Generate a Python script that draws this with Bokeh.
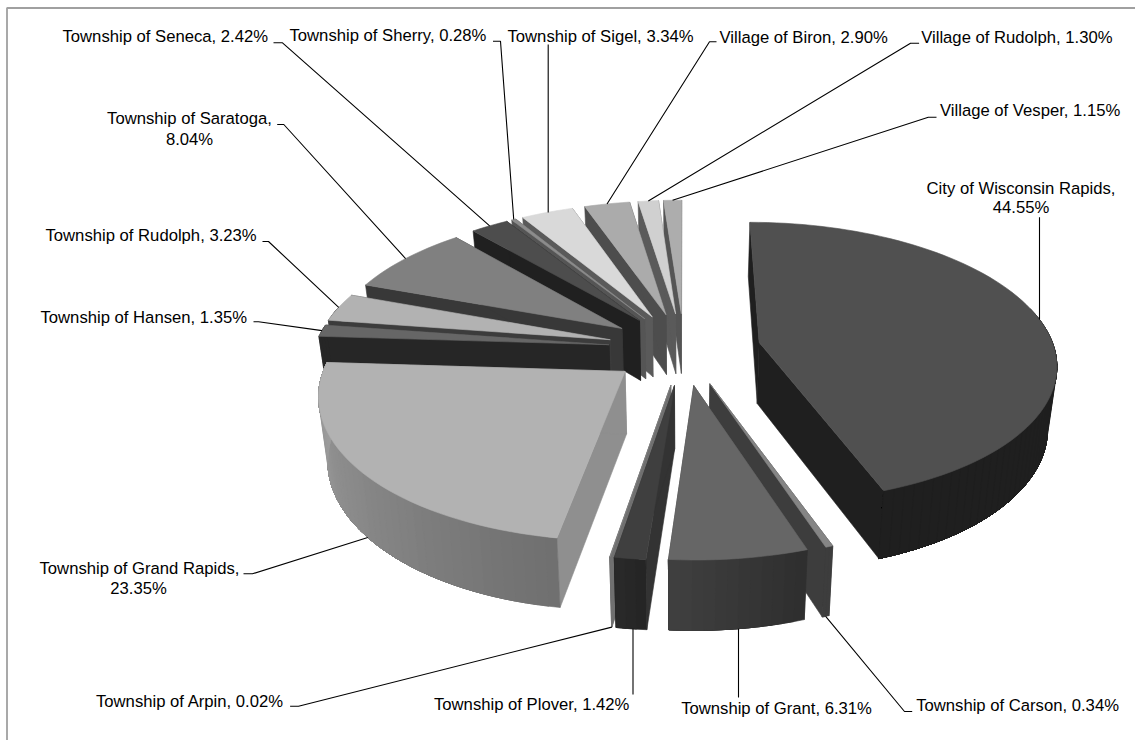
import math
from bokeh.core.properties import value
from bokeh.embed import file_html
from bokeh.models import Range1d
from bokeh.plotting import figure
from bokeh.resources import INLINE

# ---- data ----
names = ["City of Wisconsin Rapids", "Township of Carson", "Township of Grant", "Township of Plover",
         "Township of Arpin", "Township of Grand Rapids", "Township of Hansen", "Township of Rudolph",
         "Township of Saratoga", "Township of Seneca", "Township of Sherry", "Township of Sigel",
         "Village of Biron", "Village of Rudolph", "Village of Vesper"]
shares = [44.55, 0.34, 6.31, 1.42, 0.02, 23.35, 1.35, 3.23, 8.04, 2.42, 0.28, 3.34, 2.90, 1.30, 1.15]

# ---- style: gray levels ----
top_gray = [0x50, 0x85, 0x66, 0x3f, 0x80, 0xb2, 0x66, 0xb2, 0x80, 0x4d, 0x8c, 0xd9, 0xab, 0xd0, 0xad]
side_gray = [0x1f, 0x3d, 0x3a, 0x33, 0x70, 0x8f, 0x26, 0x3c, 0x38, 0x20, 0x55, 0x5a, 0x4d, 0x5a, 0x55]
wall_start = [0x1f, 0x3d, 0x2e, 0x24, 0x70, 0x6f, 0x26, 0x3c, 0x38, 0x20, 0x55, 0x5a, 0x4d, 0x5a, 0x55]
wall_end = [0x1f, 0x3d, 0x40, 0x2a, 0x70, 0xa0, 0x26, 0x3c, 0x38, 0x20, 0x55, 0x5a, 0x4d, 0x5a, 0x55]

# ---- layout: label rows (left or centre x, y), elbow points, anchor on bottom rim, sideways nudge ----
label_rows = [
    [(1020.5, 187.7, "center"), (1020.5, 206.7, "center")],
    [(915.7, 705.3, "left")],
    [(680.7, 708, "left")],
    [(433.5, 704, "left")],
    [(95.5, 700.7, "left")],
    [(139, 568.3, "center"), (138, 587.7, "center")],
    [(40, 316.7, "left")],
    [(45, 235.3, "left")],
    [(189, 118.3, "center"), (189, 138.7, "center")],
    [(62, 36, "left")],
    [(289, 35, "left")],
    [(507, 36, "left")],
    [(719, 36.7, "left")],
    [(920.7, 37.3, "left")],
    [(939.5, 110, "left")],
]
elbows = [
    [(1039, 216.7)],
    [(911.7, 711), (904, 711)],
    [(738, 697)],
    [(632.5, 694)],
    [(289.6, 705.7), (298, 705.7)],
    [(243, 573.3), (252, 573.3)],
    [(253, 321.3), (258, 321.3)],
    [(262, 241), (268, 241)],
    [(276.7, 124), (283.3, 124)],
    [(273, 42.3), (282, 42.3)],
    [(492.5, 40.7), (500, 40.7)],
    [(547.7, 44)],
    [(716, 41.3), (709, 41.3)],
    [(918.6, 42.7), (910, 42.7)],
    [(936, 116.7), (927.8, 116.7)],
]
anchor_bottom = [False, True, True, True, True, True, False, False, False, False, False, False, False, False, False]
nudge_x = [0, 0, 0, 0, 0, 2.5, 1, 0, 0, 0, 0, 0, 0, 0, 0]

# ---- projection ----
CX, CY, A, B, K, E = 683.5, 348.0, 295.0, 138.5, 0.14, 0.26


def project(u, v, dx=0.0):
    s = 1.0 / (1.0 - K * v)
    return CX + A * u * s + dx, CY + B * v * s


def lower(u, v, dx=0.0):
    x, y = project(u, v)
    return CX + (x - CX) * 0.975 + dx, y + 61.5 + 7.0 * v


def hexgray(g):
    g = int(round(g))
    return f"#{g:02x}{g:02x}{g:02x}"


total = sum(shares)
slices = []
cum = 0.0
for i, share in enumerate(shares):
    t0 = cum / total * 2 * math.pi
    cum += share
    t1 = cum / total * 2 * math.pi
    b = (t0 + t1) / 2
    ou, ov = E * math.sin(b), -E * math.cos(b)
    slices.append((ov, i, t0, t1, b, ou))

xs, ys, cols = [], [], []


def add(pts, col):
    xs.append([q[0] for q in pts])
    ys.append([q[1] for q in pts])
    cols.append(col)


for ov, i, t0, t1, b, ou in sorted(slices):
    d = nudge_x[i]
    n = max(2, int((t1 - t0) / math.radians(2.0)) + 1)
    angles = [t0 + (t1 - t0) * j / n for j in range(n + 1)]
    rim = [(ou + math.sin(t), ov - math.cos(t)) for t in angles]
    apex = (ou, ov)
    # cut faces
    add([project(*apex, d), project(*rim[0], d), lower(*rim[0], d), lower(*apex, d)], hexgray(side_gray[i]))
    add([project(*apex, d), project(*rim[-1], d), lower(*rim[-1], d), lower(*apex, d)], hexgray(side_gray[i]))
    # outer wall, front-facing part: each band runs on to the end, so the next band covers its tail
    vis = [j for j in range(n) if math.cos((angles[j] + angles[j + 1]) / 2) < 0.26]
    for j in vis:
        arc = rim[j:vis[-1] + 2]
        g = wall_start[i] + (wall_end[i] - wall_start[i]) * (j + 0.5) / n
        add([project(*q, d) for q in arc] + [lower(*q, d) for q in reversed(arc)], hexgray(g))
    # top
    add([project(*apex, d)] + [project(*q, d) for q in rim], hexgray(top_gray[i]))

p = figure(width=1135, height=740, x_range=Range1d(0, 1135), y_range=Range1d(740, 0),
           x_axis_type=None, y_axis_type=None, toolbar_location=None, output_backend="svg",
           min_border=0, outline_line_color=None, background_fill_color="white",
           margin=(0, 0, 0, 0))
p.grid.visible = False

# frame
p.line([6.5, 6.5, 1135], [740, 7.5, 7.5], line_color="#a0a0a0", line_width=1.8)

p.patches(xs, ys, fill_color=cols, line_color=cols, line_width=0.6)

# leaders
lx, ly = [], []
for ov, i, t0, t1, b, ou in slices:
    u = ou + math.sin(b)
    v = ov - math.cos(b)
    end = lower(u, v, nudge_x[i]) if anchor_bottom[i] else project(u, v, nudge_x[i])
    path = list(elbows[i])
    if len(path) == 1:
        path = [(path[0][0], path[0][1]), (path[0][0], end[1])]
    else:
        path = path + [end]
    lx.append([q[0] for q in path])
    ly.append([q[1] for q in path])
p.multi_line(lx, ly, line_color="#000000", line_width=1.1)

# labels
for i, rows in enumerate(label_rows):
    pct = f"{shares[i]:.2f}%"
    if len(rows) == 2:
        texts = [f"{names[i]},", pct]
    else:
        texts = [f"{names[i]}, {pct}"]
    for (x, y, al), t in zip(rows, texts):
        p.text([x], [y], text=[t], text_font=value("Liberation Sans"), text_font_size="16.67px",
               text_color="#000000", text_align=al, text_baseline="middle")

open("out.html", "w").write(file_html(p, INLINE))
